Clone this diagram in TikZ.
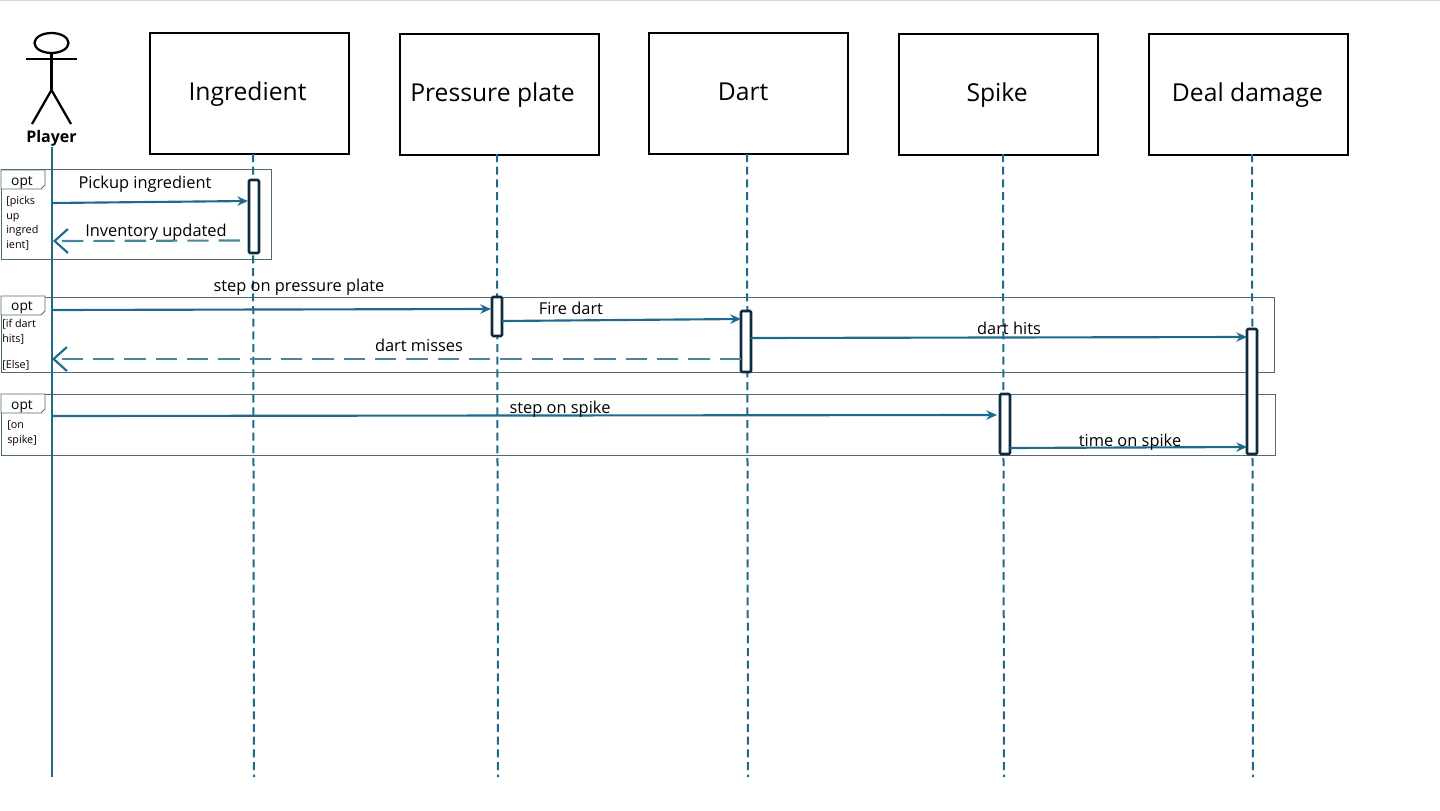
\documentclass[tikz,border=0pt]{standalone}
\usepackage{fontspec}
\setmainfont{Open Sans}
\usetikzlibrary{arrows.meta}
\definecolor{lifeblue}{HTML}{1F6A8C}
\definecolor{backblue}{HTML}{4A859E}
\definecolor{bardark}{HTML}{0E2B3F}
\definecolor{framegray}{HTML}{4F6B78}
\tikzset{
    headbox/.style={draw=black,line width=1.5pt,outer sep=0pt,inner sep=0pt,minimum width=149.25pt,minimum height=90.75pt,text height=14pt,text depth=4pt,font=\fontsize{18.5pt}{22pt}\selectfont},
    framebox/.style={draw=framegray,line width=0.7pt,outer sep=0pt,inner sep=0pt},
    actbar/.style={draw=bardark,fill=white,line width=1.9pt,rounded corners=0.8pt,outer sep=0pt,inner sep=0pt,minimum width=7.5pt},
    lifeline/.style={draw=lifeblue,line width=1.5pt,dash pattern=on 6pt off 3.5pt},
    msg/.style={draw=lifeblue,line width=1.6pt,-{Stealth[length=8pt,width=7pt]}},
    backmsg/.style={draw=backblue,line width=1.6pt,dash pattern=on 16pt off 7.5pt,-{Straight Barb[length=10pt,width=18pt,line width=1.6pt,color=lifeblue]}},
    msglabel/.style={inner sep=0pt,font=\fontsize{12.3pt}{14pt}\selectfont},
    optlabel/.style={inner sep=0pt,font=\fontsize{10.3pt}{12pt}\selectfont},
    guardlabel/.style={inner sep=0pt,anchor=north west,align=left,font=\fontsize{8.1pt}{11pt}\selectfont},
    stickman/.style={draw=black,line width=1.7pt}
}
\begin{document}
\begin{tikzpicture}[x=0.75pt,y=-0.75pt]
        \useasboundingbox (0,0) rectangle (1440,811);
        \draw [draw=black!15, line width=0.7pt] (0,0.5) -- (1440,0.5);
        % frames
        \node [framebox, minimum width=202.5pt, minimum height=67.5pt] (frameIngredient) at (136,214) {};
        \node [framebox, minimum width=954.75pt, minimum height=56.25pt] (framePlate) at (637.5,334.5) {};
        \node [framebox, minimum width=955.5pt, minimum height=45.75pt] (frameSpike) at (638,424.5) {};
        \draw [framebox, fill=white] (1,170) -- (45,170) -- (45,185) -- (41,189) -- (1,189) -- cycle;
        \draw [framebox, fill=white] (1,296) -- (45,296) -- (45,311) -- (41,315) -- (1,315) -- cycle;
        \draw [framebox, fill=white] (1,394) -- (45,394) -- (45,409) -- (41,413) -- (1,413) -- cycle;
        \node [optlabel] (optIngredient) at (22,183) {opt};
        \node [optlabel] (optPlate) at (22,308) {opt};
        \node [optlabel] (optSpike) at (22,407) {opt};
        \node [guardlabel] (guardIngredient) at (6,196) {{[picks}\\up\\ingred\\ient]};
        \node [guardlabel] (guardPlate) at (2,319) {{[if dart}\\hits]\\[-2.2pt] \\{[Else]}};
        \node [guardlabel] (guardSpike) at (7,420.5) {{[on}\\spike]};
        % header boxes
        \node [headbox] (boxIngredient) at (249.5,93.5) {\hspace{-3pt}Ingredient};
        \node [headbox] (boxPlate) at (499.5,94.5) {\hspace{-10.5pt}Pressure plate};
        \node [headbox] (boxDart) at (748.5,93.5) {\hspace{-8pt}Dart};
        \node [headbox] (boxSpike) at (998.5,94.5) {\hspace{-2pt}Spike};
        \node [headbox] (boxDamage) at (1248.5,94.5) {\hspace{-1.5pt}Deal damage};
        % actor
        \draw [stickman] (51.5,43) ellipse (17 and 10);
        \coordinate (neck) at (51.5,53);
        \coordinate (hip) at (51.5,90);
        \draw [stickman] (neck) -- (hip);
        \draw [stickman] (26,59) -- (77,59);
        \draw [stickman] (32,124) -- (hip) -- (71,124);
        \node [inner sep=0pt, font=\bfseries\fontsize{12pt}{14pt}\selectfont] (player) at (51.5,138.5) {Player};
        % lifelines
        \coordinate (playerTop) at (51.5,147);
        \coordinate (playerEnd) at (51.5,777);
        \draw [draw=lifeblue, line width=1.5pt] (playerTop) -- (playerEnd);
        \foreach \name/\xa/\xb in {Ingredient/253/254,Plate/497/498,Dart/747/748,Spike/1003/1004,Damage/1252/1253} {
            \coordinate (top\name) at (\xa,154);
            \coordinate (end\name) at (\xb,777);
            \draw [lifeline] (top\name) -- (end\name);
        }
        % activation bars
        \node [actbar, minimum height=54.75pt] (barIngredient) at (254,216.5) {};
        \node [actbar, minimum height=29.25pt] (barPlate) at (497,316.5) {};
        \node [actbar, minimum height=45.75pt] (barDart) at (746,341.5) {};
        \node [actbar, minimum height=45pt] (barSpike) at (1005,424) {};
        \node [actbar, minimum height=93.75pt] (barDamage) at (1252,391.5) {};
        % messages
        \coordinate (pickupFrom) at (52,203);
        \coordinate (pickupTo) at (248,201);
        \draw [msg] (pickupFrom) -- (pickupTo);
        \coordinate (inventoryFrom) at (240,240.5);
        \coordinate (inventoryTo) at (53,241);
        \draw [backmsg] (inventoryFrom) -- (inventoryTo);
        \coordinate (plateFrom) at (52,310);
        \coordinate (plateTo) at (491,309);
        \draw [msg] (plateFrom) -- (plateTo);
        \coordinate (fireFrom) at (502,321);
        \coordinate (fireTo) at (741,319);
        \draw [msg] (fireFrom) -- (fireTo);
        \coordinate (hitsFrom) at (751,338);
        \coordinate (hitsTo) at (1247,337);
        \draw [msg] (hitsFrom) -- (hitsTo);
        \coordinate (missFrom) at (741,359);
        \coordinate (missTo) at (52,359);
        \draw [backmsg, line width=2.2pt] (missFrom) -- (missTo);
        \coordinate (spikeFrom) at (52,416);
        \coordinate (spikeTo) at (997,415);
        \draw [msg] (spikeFrom) -- (spikeTo);
        \coordinate (timeFrom) at (1010,448);
        \coordinate (timeTo) at (1247,447);
        \draw [msg] (timeFrom) -- (timeTo);
        % message labels
        \node [msglabel] (labelPickup) at (145,184) {Pickup ingredient};
        \node [msglabel] (labelInventory) at (156,232) {Inventory updated};
        \node [msglabel] (labelPlate) at (299,287) {step on pressure plate};
        \node [msglabel] (labelFire) at (571,308) {Fire dart};
        \node [msglabel] (labelHits) at (1009,328) {dart hits};
        \node [msglabel] (labelMiss) at (419,345) {dart misses};
        \node [msglabel] (labelSpike) at (560,409) {step on spike};
        \node [msglabel] (labelTime) at (1130,442) {time on spike};
\end{tikzpicture}
\end{document}
